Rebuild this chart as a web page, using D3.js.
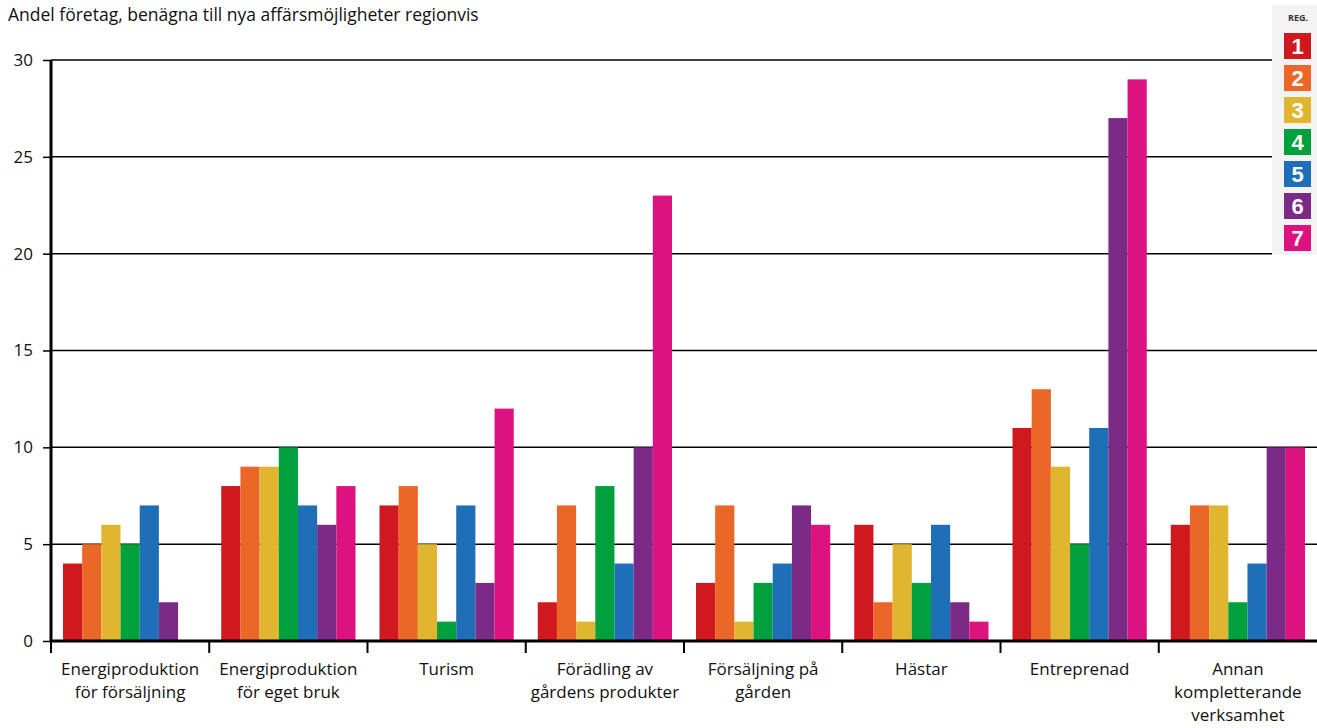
<!DOCTYPE html>
<html>
<head>
<meta charset="utf-8">
<script src="https://cdn.jsdelivr.net/npm/d3@7"></script>
<style>
  body { margin: 0; background: #fff; }
  text { font-family: 'Open Sans', sans-serif; }
</style>
</head>
<body>
<div id="chart"></div>
<script>
const categories = [
  ['Energiproduktion', 'för försäljning'],
  ['Energiproduktion', 'för eget bruk'],
  ['Turism'],
  ['Förädling av', 'gårdens produkter'],
  ['Försäljning på', 'gården'],
  ['Hästar'],
  ['Entreprenad'],
  ['Annan', 'kompletterande', 'verksamhet']
];
const regions = ['1', '2', '3', '4', '5', '6', '7'];
const regionColors = ['#d0191e', '#eb6728', '#e0b52f', '#00a03c', '#1f6fb8', '#7b2a86', '#dc1280'];
// one row per category, one value per region
const values = [
  [4, 5, 6, 5, 7, 2, 0],
  [8, 9, 9, 10, 7, 6, 8],
  [7, 8, 5, 1, 7, 3, 12],
  [2, 7, 1, 8, 4, 10, 23],
  [3, 7, 1, 3, 4, 7, 6],
  [6, 2, 5, 3, 6, 2, 1],
  [11, 13, 9, 5, 11, 27, 29],
  [6, 7, 7, 2, 4, 10, 10]
];
const yTicks = [0, 5, 10, 15, 20, 25, 30];
const title = 'Andel företag, benägna till nya affärsmöjligheter regionvis';

const W = 1317, H = 728;
const margin = { top: 60, right: 0, bottom: 87, left: 51 };
const width = W - margin.left - margin.right;
const height = H - margin.top - margin.bottom;

const svg = d3.select('#chart').append('svg')
  .attr('width', W)
  .attr('height', H);

svg.append('text')
  .attr('x', 8)
  .attr('y', 21)
  .attr('font-size', 17.5)
  .attr('fill', '#111')
  .text(title);

const x0 = d3.scaleBand().domain(d3.range(categories.length)).range([0, width]);
const x1 = d3.scaleBand().domain(d3.range(regions.length)).range([12, x0.bandwidth() - 12]);
const y = d3.scaleLinear().domain([0, 30]).range([height, 0]);

const g = svg.append('g')
  .attr('transform', 'translate(' + margin.left + ',' + margin.top + ')');

// Gridlines
g.selectAll('.grid')
  .data(yTicks.filter(d => d > 0))
  .enter()
  .append('line')
  .attr('x1', 0)
  .attr('x2', width)
  .attr('y1', d => y(d))
  .attr('y2', d => y(d))
  .attr('stroke', '#000')
  .attr('stroke-width', 1.5);

// Bars
const groups = g.selectAll('.cat')
  .data(values)
  .enter()
  .append('g')
  .attr('transform', (d, i) => 'translate(' + x0(i) + ',0)');

groups.selectAll('rect')
  .data(d => d)
  .enter()
  .append('rect')
  .attr('x', (d, i) => x1(i))
  .attr('width', x1.bandwidth())
  .attr('y', d => y(d))
  .attr('height', d => height - y(d))
  .attr('fill', (d, i) => regionColors[i]);

// Y axis
const yAxis = g.append('g')
  .call(d3.axisLeft(y).tickValues(yTicks).tickSize(8).tickPadding(10));
yAxis.select('.domain').attr('stroke', '#000').attr('stroke-width', 3).attr('d', 'M0,0V' + height);
yAxis.selectAll('.tick line').attr('stroke', '#000').attr('stroke-width', 1.5);
yAxis.selectAll('.tick text').attr('font-size', 17).attr('fill', '#111').style('font-family', "'Open Sans', sans-serif");

// X axis line + ticks at category boundaries
g.append('line')
  .attr('x1', 0).attr('x2', width)
  .attr('y1', height).attr('y2', height)
  .attr('stroke', '#000').attr('stroke-width', 3);

g.selectAll('.xtick')
  .data(d3.range(categories.length))
  .enter()
  .append('line')
  .attr('x1', d => x0(d))
  .attr('x2', d => x0(d))
  .attr('y1', height)
  .attr('y2', height + 12)
  .attr('stroke', '#000')
  .attr('stroke-width', 2);

// Category labels
const labels = g.selectAll('.xlabel')
  .data(categories)
  .enter()
  .append('text')
  .attr('text-anchor', 'middle')
  .attr('font-size', 17)
  .attr('fill', '#111')
  .attr('transform', (d, i) => 'translate(' + (x0(i) + x0.bandwidth() / 2) + ',' + (height + 34) + ')');

labels.selectAll('tspan')
  .data(d => d)
  .enter()
  .append('tspan')
  .attr('x', 0)
  .attr('dy', (d, i) => i === 0 ? 0 : 23)
  .text(d => d);

// Legend
const legend = svg.append('g').attr('transform', 'translate(1272,5)');
legend.append('rect')
  .attr('width', 45)
  .attr('height', 250)
  .attr('fill', '#f3f3f3');
legend.append('text')
  .attr('x', 26)
  .attr('y', 16)
  .attr('text-anchor', 'middle')
  .attr('font-size', 9)
  .attr('font-weight', 'bold')
  .attr('fill', '#333')
  .text('REG.');

const items = legend.selectAll('.item')
  .data(regions)
  .enter()
  .append('g')
  .attr('transform', (d, i) => 'translate(12,' + (28 + i * 32) + ')');

items.append('rect')
  .attr('width', 27)
  .attr('height', 26)
  .attr('fill', (d, i) => regionColors[i]);

items.append('text')
  .attr('x', 13.5)
  .attr('y', 21)
  .attr('text-anchor', 'middle')
  .attr('font-size', 22)
  .attr('font-weight', 'bold')
  .attr('fill', '#fff')
  .style('font-family', "'Liberation Sans', sans-serif")
  .text(d => d);
</script>
</body>
</html>
